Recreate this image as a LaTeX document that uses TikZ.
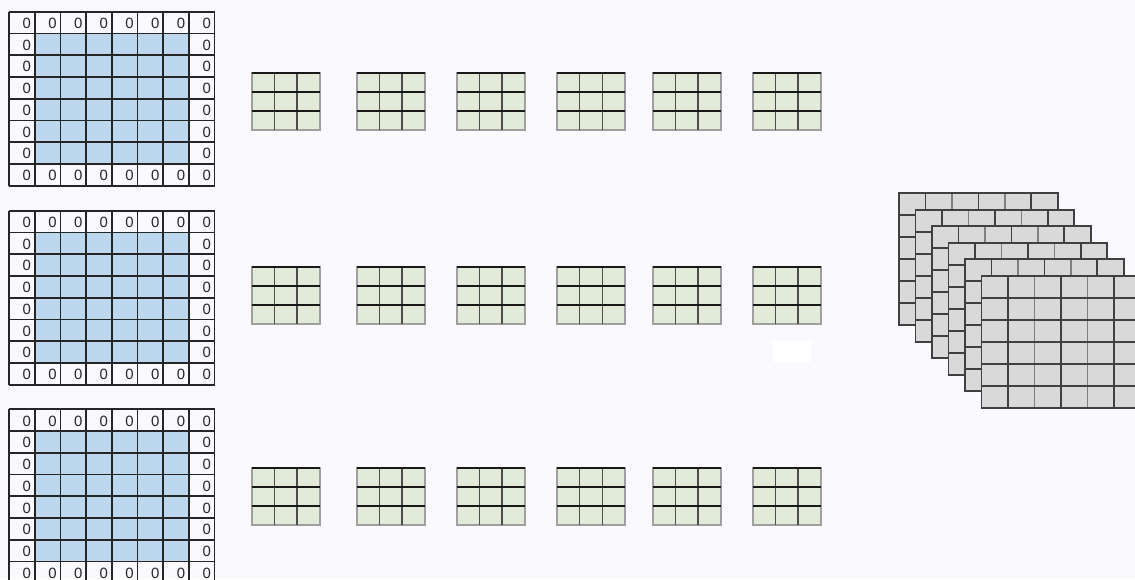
\documentclass[tikz,border=0pt]{standalone}
\usepackage{fontspec}
\setmainfont{Liberation Sans}
\definecolor{padpaper}{HTML}{FAF9FD}
\definecolor{padblue}{HTML}{BDD7EE}
\definecolor{kernelgreen}{HTML}{E2EBDA}
\definecolor{mapgray}{HTML}{D9D9D9}

\begin{document}
\begin{tikzpicture}[x=.025cm,y=-.025cm,
    padline/.style={black!85,line width=1.25pt},
    zerolabel/.style={anchor=east,inner sep=0pt,
      font=\fontsize{10.6}{11}\selectfont,text=black!85},
    kernelrim/.style={gray!75,line width=1.5pt},
    kernelrow/.style={black!90,line width=1.4pt},
    kernelcol/.style={black!70,line width=1.1pt},
    mapline/.style={black!75,line width=1.2pt}]
        \useasboundingbox (0,0) rectangle (1135,579);
        \clip (0,0) rectangle (1135,579);
        \fill[padpaper] (0,0) rectangle (1135,579);

        % padded inputs, one per channel
        \foreach \gy [count=\g] in {11.7,210.7,409.3} {
          \fill[padblue] (9+25.7,\gy+21.75) rectangle ++(154.2,130.5);
          \foreach \i in {0,...,8}
            \draw[padline] (9+\i*25.7,\gy) -- ++(0,174);
          \foreach \j in {0,...,8}
            \draw[padline] (9,\gy+\j*21.75) -- ++(205.6,0);
          \foreach \j in {0,7}
            \foreach \i in {0,...,7}
              \node[zerolabel] (zero\g-\i-\j) at (9+\i*25.7+22.2,\gy+\j*21.75+11.6) {0};
          \foreach \i in {0,7}
            \foreach \j in {1,...,6}
              \node[zerolabel] (zero\g-\i-\j) at (9+\i*25.7+22.2,\gy+\j*21.75+11.6) {0};
        }

        % 3x3 kernels
        \foreach \ky in {73.3,267.3,468.3} {
          \foreach \kx in {251.7,356.7,456.7,557,652.7,752.7} {
            \fill[kernelgreen] (\kx,\ky) rectangle ++(68,57);
            \draw[kernelrim] (\kx,\ky) rectangle ++(68,57);
            \draw[kernelcol] (\kx+22.67,\ky) -- ++(0,57);
            \draw[kernelcol] (\kx+45.33,\ky) -- ++(0,57);
            \draw[kernelrow] (\kx,\ky+19) -- ++(68,0);
            \draw[kernelrow] (\kx,\ky+38) -- ++(68,0);
            \draw[kernelrow] (\kx,\ky) -- ++(68,0);
          }
        }

        \fill[white] (773.3,341) rectangle (811,362.3);

        % stacked feature maps
        \foreach \k in {0,...,5} {
          \begin{scope}[shift={(899+16.5*\k,193.3+16.5*\k)}]
            \fill[mapgray] (0,0) rectangle (158.7,132);
            \foreach \i in {1,3,5}
              \draw[mapline] (\i*26.45,0) -- ++(0,132);
            \foreach \i in {2,4}
              \draw[black!50,line width=1.1pt] (\i*26.45,0) -- ++(0,132);
            \foreach \j in {1,...,5}
              \draw[mapline] (0,\j*22) -- ++(158.7,0);
            \draw[mapline] (0,0) rectangle (158.7,132);
          \end{scope}
        }
      \end{tikzpicture}
\end{document}
